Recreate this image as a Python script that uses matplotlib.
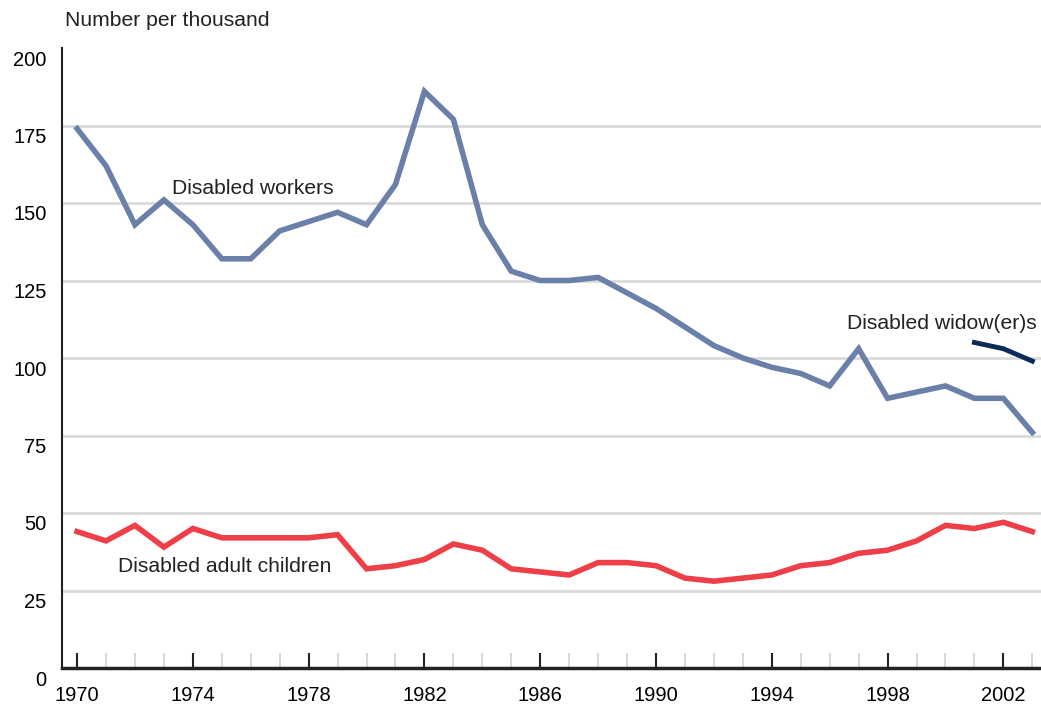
import matplotlib.pyplot as plt
import matplotlib.transforms as mtransforms
from matplotlib.ticker import MultipleLocator

plt.rcParams['font.family'] = ['Liberation Sans', 'DejaVu Sans']

years = list(range(1970, 2004))
workers = [174, 162, 143, 151, 143, 132, 132, 141, 144, 147, 143, 156, 186, 177,
           143, 128, 125, 125, 126, 121, 116, 110, 104, 100, 97, 95, 91, 103,
           87, 89, 91, 87, 87, 76]
adult_children = [44, 41, 46, 39, 45, 42, 42, 42, 42, 43, 32, 33, 35, 40,
                  38, 32, 31, 30, 34, 34, 33, 29, 28, 29, 30, 33, 34, 37,
                  38, 41, 46, 45, 47, 44]
widow_years = [2001, 2002, 2003]
widowers = [105, 103, 99]

fig = plt.figure(figsize=(10.41, 7.09), dpi=100)
ax = fig.add_axes([62 / 1041, 1 - 668 / 709, 1 - 62 / 1041, (668 - 48) / 709])

ax.set_xlim(1969.48, 2003.3)
ax.set_ylim(0, 200)

for yv in range(25, 200, 25):
    ax.axhline(yv, color='#dadada', lw=2, zorder=1)

ax.plot(years, workers, color='#6b80a8', lw=4, zorder=3, solid_joinstyle='miter')
ax.plot(years, adult_children, color='#ee3e47', lw=4, zorder=3, solid_joinstyle='miter')
ax.plot(widow_years, widowers, color='#0b2a55', lw=3.5, zorder=3)

ax.text(1973.27, 153, 'Disabled workers', fontsize=15.2, color='#222222')
ax.text(1971.43, 31, 'Disabled adult children', fontsize=15.2, color='#222222')
ax.text(1996.6, 109.5, 'Disabled widow(er)s', fontsize=15.2, color='#222222')

for s in ['top', 'right']:
    ax.spines[s].set_visible(False)
ax.spines['left'].set_color('#222222')
ax.spines['left'].set_linewidth(1.5)
ax.spines['bottom'].set_color('#222222')
ax.spines['bottom'].set_linewidth(2.5)

ax.xaxis.set_minor_locator(MultipleLocator(1))
ax.set_xticks(range(1970, 2004, 4))
ax.tick_params(axis='x', which='major', direction='in', length=11, width=1.5,
               color='#222222', labelsize=14.5, pad=13)
ax.tick_params(axis='x', which='minor', direction='in', length=11, width=1.2,
               color='#d0d0d0')

ax.set_yticks(range(0, 201, 25))
ax.tick_params(axis='y', which='major', length=0, labelsize=14.5, pad=11)
offset = mtransforms.ScaledTranslation(0, -10 / 100, fig.dpi_scale_trans)
for lbl in ax.get_yticklabels():
    lbl.set_transform(lbl.get_transform() + offset)

fig.text(65 / 1041, 1 - 20 / 709, 'Number per thousand', fontsize=15.2,
         va='center', ha='left', color='#222222')

fig.savefig('out.png', dpi=100)
